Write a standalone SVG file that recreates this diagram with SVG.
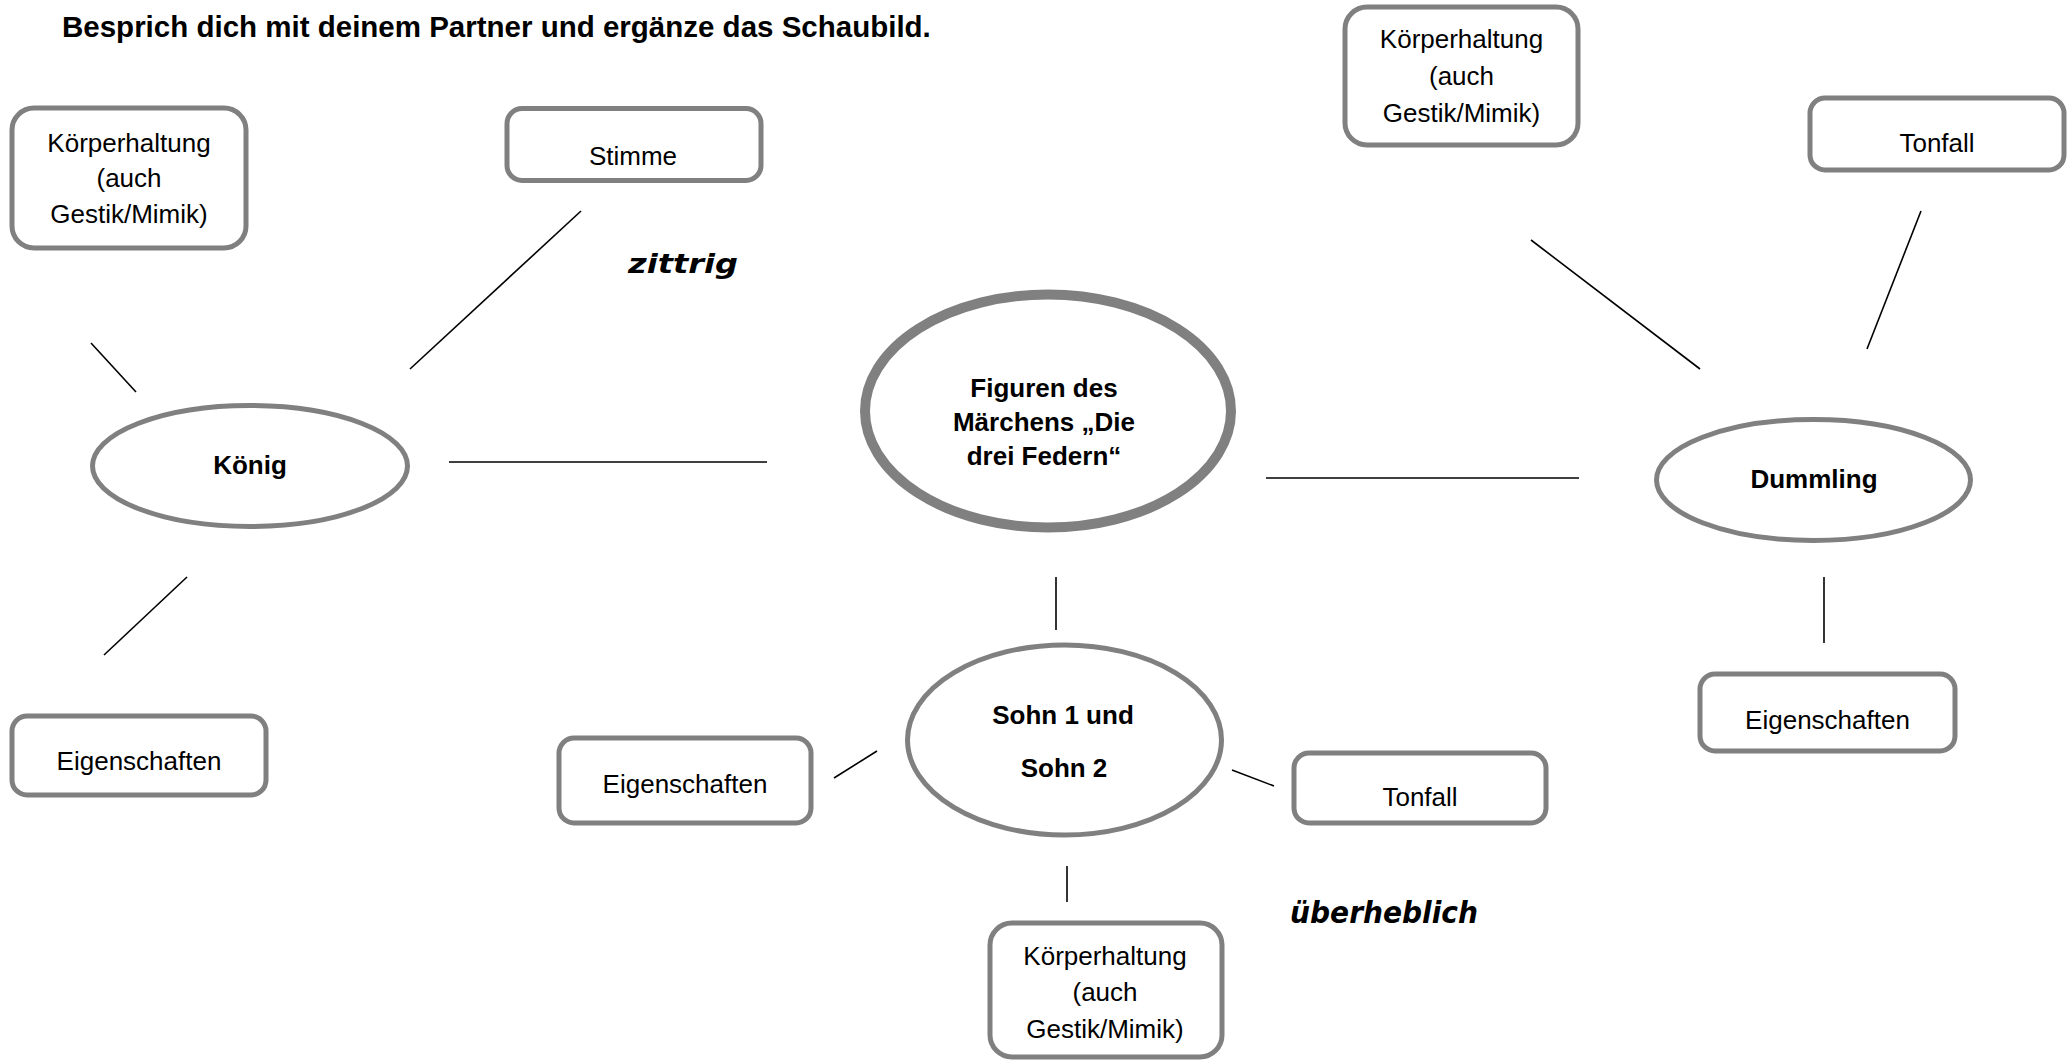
<svg xmlns="http://www.w3.org/2000/svg" width="2069" height="1061" viewBox="0 0 2069 1061">
<style>
.box{fill:#fff;stroke:#808080;stroke-width:5}
.ell{fill:#fff;stroke:#808080;stroke-width:5}
.lbl{font-family:"Liberation Sans",Arial,sans-serif;font-size:26px;fill:#000;text-anchor:middle}
.bold{font-family:"Liberation Sans",Arial,sans-serif;font-size:26px;font-weight:bold;fill:#000;text-anchor:middle}
.hand{font-family:"Comic Sans MS","DejaVu Sans",sans-serif;font-weight:bold;font-style:italic;fill:#000}
.con line{stroke:#000;stroke-width:1.6}
</style>
<rect width="2069" height="1061" fill="#fff"/>
<text x="62" y="37" font-family="Liberation Sans,Arial,sans-serif" font-size="29.5" font-weight="bold" fill="#000">Besprich dich mit deinem Partner und ergänze das Schaubild.</text>

<g id="connectors" class="con">
<line x1="449" y1="462" x2="767" y2="462"/>
<line x1="91" y1="343" x2="136" y2="392"/>
<line x1="581" y1="211" x2="410" y2="369"/>
<line x1="187" y1="577" x2="104" y2="655"/>
<line x1="1266" y1="478" x2="1579" y2="478"/>
<line x1="1056" y1="577" x2="1056" y2="630"/>
<line x1="834" y1="778" x2="877" y2="751"/>
<line x1="1232" y1="770" x2="1274" y2="786"/>
<line x1="1067" y1="866" x2="1067" y2="902"/>
<line x1="1824" y1="577" x2="1824" y2="643"/>
<line x1="1531" y1="240" x2="1700" y2="369"/>
<line x1="1921" y1="211" x2="1867" y2="349"/>
</g>

<g id="center">
<ellipse cx="1048" cy="411" rx="183" ry="116.5" fill="#fff" stroke="#808080" stroke-width="10"/>
<text class="bold" font-size="25" x="1044" y="397">Figuren des</text>
<text class="bold" font-size="25" x="1044" y="431">Märchens „Die</text>
<text class="bold" font-size="25" x="1044" y="465">drei Federn“</text>
</g>

<g id="koenig">
<ellipse class="ell" cx="250" cy="466" rx="157.5" ry="60.5"/>
<text class="bold" x="250" y="474">König</text>
</g>
<g id="koenig-koerper">
<rect class="box" x="12" y="108" width="234" height="140" rx="22"/>
<text class="lbl" x="129" y="152">Körperhaltung</text>
<text class="lbl" x="129" y="187">(auch</text>
<text class="lbl" x="129" y="223">Gestik/Mimik)</text>
</g>
<g id="koenig-stimme">
<rect class="box" x="507" y="108.5" width="254" height="72" rx="15"/>
<text class="lbl" x="633" y="165">Stimme</text>
</g>
<g id="koenig-eigenschaften">
<rect class="box" x="12" y="716" width="254" height="79" rx="15"/>
<text class="lbl" x="139" y="770">Eigenschaften</text>
</g>

<g id="sohn">
<ellipse class="ell" cx="1064.5" cy="740" rx="157" ry="95"/>
<text class="bold" x="1063" y="724">Sohn 1 und</text>
<text class="bold" x="1064" y="777">Sohn 2</text>
</g>
<g id="sohn-eigenschaften">
<rect class="box" x="559" y="738" width="252" height="85" rx="15"/>
<text class="lbl" x="685" y="793">Eigenschaften</text>
</g>
<g id="sohn-tonfall">
<rect class="box" x="1294" y="753" width="252" height="70" rx="15"/>
<text class="lbl" x="1420" y="806">Tonfall</text>
</g>
<g id="sohn-koerper">
<rect class="box" x="990" y="923" width="232" height="134" rx="22"/>
<text class="lbl" x="1105" y="965">Körperhaltung</text>
<text class="lbl" x="1105" y="1001">(auch</text>
<text class="lbl" x="1105" y="1038">Gestik/Mimik)</text>
</g>

<g id="dummling">
<ellipse class="ell" cx="1813.5" cy="480" rx="157" ry="60.5"/>
<text class="bold" x="1814" y="488">Dummling</text>
</g>
<g id="dummling-eigenschaften">
<rect class="box" x="1700" y="674" width="255" height="77" rx="15"/>
<text class="lbl" x="1827.5" y="729">Eigenschaften</text>
</g>
<g id="dummling-koerper">
<rect class="box" x="1345" y="7" width="233" height="138" rx="22"/>
<text class="lbl" x="1461.5" y="48">Körperhaltung</text>
<text class="lbl" x="1461.5" y="85">(auch</text>
<text class="lbl" x="1461.5" y="122">Gestik/Mimik)</text>
</g>
<g id="dummling-tonfall">
<rect class="box" x="1810" y="98" width="254" height="72" rx="15"/>
<text class="lbl" x="1937" y="152">Tonfall</text>
</g>

<g id="notes">
<text class="hand" x="628" y="273" font-size="27" textLength="110" lengthAdjust="spacingAndGlyphs">zittrig</text>
<text class="hand" x="1290" y="923" font-size="31" textLength="188" lengthAdjust="spacingAndGlyphs">überheblich</text>
</g>
</svg>
